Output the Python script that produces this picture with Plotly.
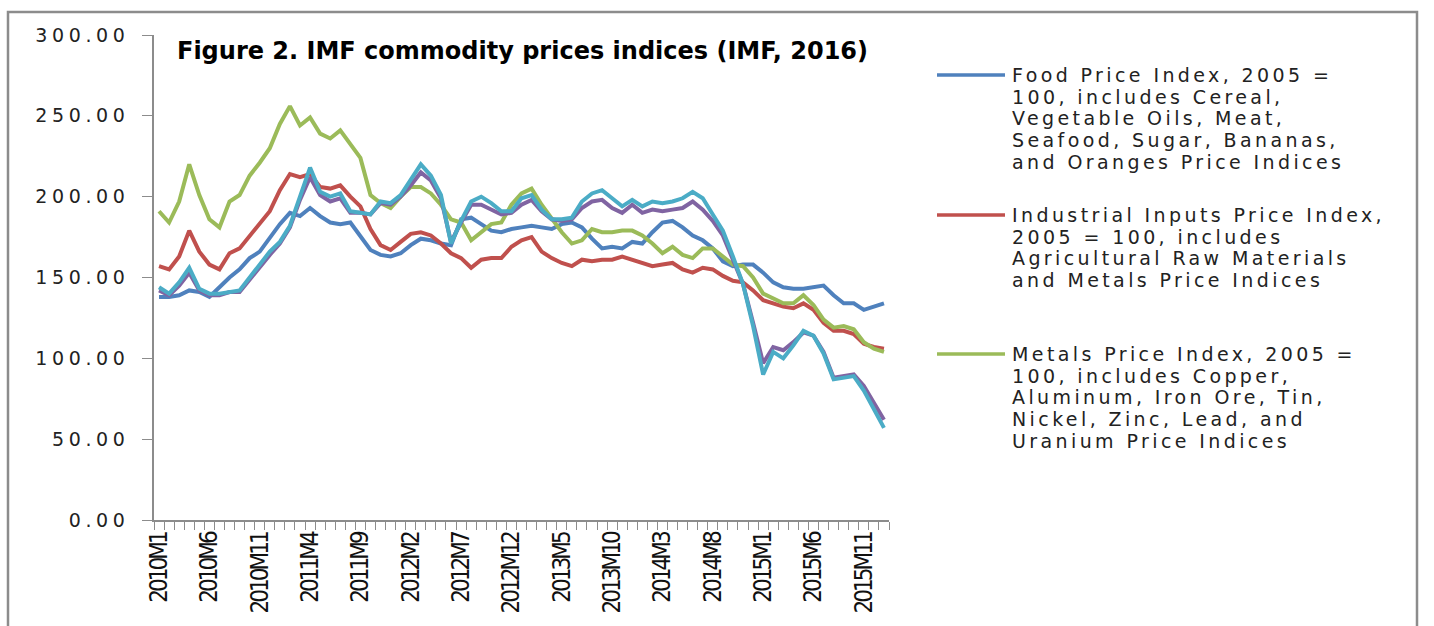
import plotly.graph_objects as go

# ---------------- data ----------------
months = [f"{y}M{m}" for y in range(2010, 2016) for m in range(1, 13)] + ["2016M1"]

food = [138, 138, 139, 142, 141, 138, 144, 150, 155, 162,
        166, 175, 183, 190, 188, 193, 188, 184, 183, 184,
        176, 167, 164, 163, 165, 170, 174, 173, 171, 170,
        186, 187, 183, 179, 178, 180, 181, 182, 181, 180,
        183, 184, 181, 174, 168, 169, 168, 172, 171, 178,
        184, 185, 181, 176, 173, 168, 160, 157, 158, 158,
        153, 147, 144, 143, 143, 144, 145, 139, 134, 134,
        130, 132, 134]

industrial = [157, 155, 163, 179, 166, 158, 155, 165, 168, 176,
              184, 191, 204, 214, 212, 214, 206, 205, 207, 200,
              194, 180, 170, 167, 172, 177, 178, 176, 171, 165,
              162, 156, 161, 162, 162, 169, 173, 175, 166, 162,
              159, 157, 161, 160, 161, 161, 163, 161, 159, 157,
              158, 159, 155, 153, 156, 155, 151, 148, 147, 142,
              136, 134, 132, 131, 134, 130, 122, 117, 117, 115,
              109, 107, 106]

metals = [191, 184, 197, 220, 201, 186, 181, 197, 201, 213,
          221, 230, 245, 256, 244, 249, 239, 236, 241, 233,
          224, 201, 196, 193, 200, 206, 206, 202, 195, 186,
          184, 173, 178, 183, 184, 195, 202, 205, 195, 186,
          178, 171, 173, 180, 178, 178, 179, 179, 176, 171,
          165, 169, 164, 162, 168, 168, 163, 158, 157, 150,
          140, 137, 134, 134, 139, 133, 124, 119, 120, 118,
          110, 106, 104]

fuel = [142, 139, 145, 153, 142, 139, 139, 141, 141, 149,
        156, 164, 171, 181, 198, 212, 201, 197, 199, 190,
        190, 189, 196, 195, 200, 207, 215, 210, 199, 172,
        184, 195, 195, 192, 189, 190, 195, 198, 191, 186,
        185, 186, 193, 197, 198, 193, 190, 195, 190, 192,
        191, 192, 193, 197, 192, 185, 176, 161, 146, 122,
        97, 107, 105, 110, 116, 114, 104, 88, 89, 90,
        83, 72, 62]

crude = [144, 140, 147, 156, 143, 140, 140, 141, 142, 150,
         158, 166, 172, 182, 200, 218, 203, 200, 202, 191,
         190, 189, 197, 196, 201, 210, 220, 213, 201, 171,
         185, 197, 200, 196, 191, 191, 199, 201, 192, 186,
         186, 187, 197, 202, 204, 199, 194, 198, 194, 197,
         196, 197, 199, 203, 199, 189, 179, 163, 146, 120,
         90, 104, 100, 108, 117, 114, 103, 87, 88, 89,
         80, 68, 57]

legend_lines = [
    ["Food Price Index, 2005 =", "100, includes Cereal,", "Vegetable Oils, Meat,",
     "Seafood, Sugar, Bananas,", "and Oranges Price Indices"],
    ["Industrial Inputs Price Index,", "2005 = 100, includes",
     "Agricultural Raw Materials", "and Metals Price Indices"],
    ["Metals Price Index, 2005 =", "100, includes Copper,", "Aluminum, Iron Ore, Tin,",
     "Nickel, Zinc, Lead, and", "Uranium Price Indices"],
]
title_text = "Figure 2. IMF commodity prices indices (IMF, 2016)"
y_ticks = [0, 50, 100, 150, 200, 250, 300]

# ---------------- styling ----------------
W, H = 1434, 626
ML, MR, MT, MB = 154, W - 889, 35, H - 520
PW, PH = W - ML - MR, H - MT - MB


def px(x):
    return (x - ML) / PW


def py(y):
    return (H - MB - y) / PH


def spaced(t, ls):
    return f'<span style="letter-spacing:{ls}px">{t}</span>'


colors = ["#4F81BD", "#C0504D", "#9BBB59", "#8064A2", "#4BACC6"]
names = ["Food Price Index", "Industrial Inputs Price Index", "Metals Price Index",
         "Fuel (Energy) Index", "Crude Oil (petroleum)"]
series = [food, industrial, metals, fuel, crude]

fig = go.Figure()
for s, c, n in zip(series, colors, names):
    fig.add_trace(go.Scatter(x=months, y=s, mode="lines", name=n,
                             line=dict(color=c, width=4), showlegend=False))

axis_col = "#8C8C8C"
fig.update_layout(
    width=W, height=H,
    margin=dict(l=ML, r=MR, t=MT, b=MB, pad=0, autoexpand=False),
    paper_bgcolor="white", plot_bgcolor="white",
    showlegend=False,
    font=dict(family="DejaVu Sans", color="#222222"),
    xaxis=dict(
        type="category",
        tickmode="array",
        tickvals=months,
        ticktext=[spaced(m, -3) if i % 5 == 0 else "" for i, m in enumerate(months)],
        tickson="boundaries",
        ticks="outside", ticklen=8, tickcolor=axis_col, tickwidth=1,
        tickangle=-90,
        tickfont=dict(family="DejaVu Sans Condensed, DejaVu Sans", size=24, color="#111111"),
        ticklabelstandoff=2,
        showline=True, linecolor=axis_col, linewidth=1.5,
        showgrid=False, zeroline=False, automargin=False,
        range=[-0.5, len(months) - 0.5],
    ),
    yaxis=dict(
        range=[0, 300],
        tickmode="array", tickvals=y_ticks,
        ticktext=[spaced(f"{v:.2f}", 4.6) for v in y_ticks],
        ticks="outside", ticklen=10, tickcolor=axis_col, tickwidth=1,
        tickfont=dict(family="DejaVu Sans", size=19, color="#222222"),
        ticklabelstandoff=9,
        showline=True, linecolor=axis_col, linewidth=1.5,
        showgrid=False, zeroline=False, automargin=False,
    ),
)

# outer frame
fig.add_shape(type="rect", xref="paper", yref="paper",
              x0=px(8), x1=px(1417), y0=py(660), y1=py(12),
              line=dict(color="#8C8C8C", width=2.5), fillcolor="rgba(0,0,0,0)", layer="below")

# title
fig.add_annotation(text=f"<b>{title_text}</b>", xref="paper", yref="paper",
                   x=px(175), y=py(51), xanchor="left", yanchor="middle",
                   showarrow=False, font=dict(family="DejaVu Sans", size=24, color="#000000"))

# manual legend (only first three series, as in the original)
leg_line_y = [75, 215, 354]
line_step = 21.7
for i in range(3):
    fig.add_shape(type="line", xref="paper", yref="paper",
                  x0=px(937), x1=px(1005), y0=py(leg_line_y[i]), y1=py(leg_line_y[i]),
                  line=dict(color=colors[i], width=3.5))
    for k, t in enumerate(legend_lines[i]):
        fig.add_annotation(text=spaced(t, 3.4), xref="paper", yref="paper",
                           x=px(1010), y=py(leg_line_y[i] + k * line_step),
                           xanchor="left", yanchor="middle",
                           align="left", showarrow=False,
                           font=dict(family="DejaVu Sans", size=19, color="#222222"))

fig.write_html("out.html", config={"displayModeBar": False},
               post_script="document.body.style.margin='0';document.body.style.overflow='hidden';")
